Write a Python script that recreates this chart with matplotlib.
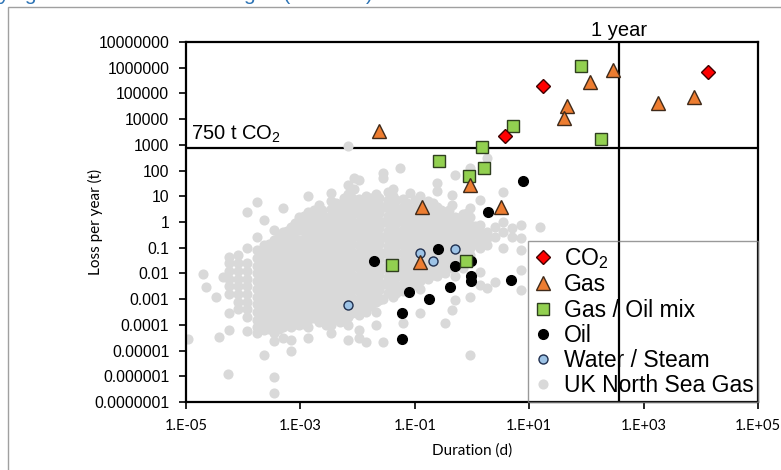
import numpy as np
import matplotlib.pyplot as plt
from matplotlib.patches import Rectangle

plt.rcParams['font.family'] = ['Liberation Sans', 'DejaVu Sans']
plt.rcParams['mathtext.default'] = 'regular'

# leak events: duration (d), loss per year (t)
co2_dur = [17.2, 3.8, 13500]
co2_loss = [187000, 2260, 680000]

gas_dur = [0.0237, 0.136, 0.91, 3.2, 0.121, 45, 41, 116, 295, 1800, 7600]
gas_loss = [3540, 3.7, 27, 4.0, 0.029, 33000, 11000, 268000, 785000, 42300, 72400]

mix_dur = [81, 5.3, 1.5, 178, 0.265, 1.62, 0.90, 0.0394, 0.777]
mix_loss = [1.12e6, 5540, 807, 1730, 240, 125, 59, 0.0216, 0.031]

oil_dur = [7.7, 1.93, 0.258, 0.0197, 0.505, 0.96, 0.96, 0.96, 4.9, 0.42, 0.080, 0.18, 0.0597, 0.0597]
oil_loss = [37.7, 2.5, 0.088, 0.0296, 0.0198, 0.0296, 0.0081, 0.0049, 0.0056, 0.0029,
            0.0019, 0.00098, 0.00029, 0.0000293]

water_dur = [0.123, 0.21, 0.505, 0.0069]
water_loss = [0.063, 0.031, 0.09, 0.00059]

# UK North Sea gas releases, read column by column (log10 duration -> log10 loss)
ns_log_dur = [-4.97, -4.70, -4.65, -4.48, -4.42, -4.35, -4.27, -4.25, -4.09, -3.94,
              -3.76, -3.64, -3.46, -3.30, -3.16, -3.02, -2.86, -2.68, -2.56, -2.46,
              -2.31, -2.16, -2.06, -1.98, -1.86, -1.68, -1.56, -1.38, -1.26, -1.20,
              -1.08, -0.91, -0.77, -0.61, -0.47, -0.35, -0.30, -0.16, -0.03, 0.14,
              0.26, 0.40, 0.54, 0.70, 0.86, 1.19,
              -3.55, -3.38, -3.23, -3.09, -2.94, -2.77, -2.62, -2.38, -2.23, -2.10,
              -1.92, -1.77, -1.62, -1.47, -1.32, -1.14, -1.00, -0.84, -0.69, -0.54,
              -0.40, -0.22, -0.09, 0.06]
ns_log_loss = [
    [-4.55], [-2.04], [-2.52], [-2.91], [-4.48], [-2.13], [-5.9],
    [-1.35, -1.59, -1.9, -2.2, -2.5, -2.8, -3.54, -4.2],
    [-1.3, -1.6, -1.9, -2.2, -2.5, -2.8, -3.1, -3.4],
    [0.37, -1.0, -1.6, -1.9, -2.2, -2.5, -2.8, -3.1, -3.4, -3.7, -4.23],
    [0.79, -0.6, -1.1, -1.4, -1.7, -2.0, -2.3, -2.6, -2.9, -3.2, -3.5, -3.8, -4.1, -4.31],
    [0.09, -0.9, -1.2, -1.5, -1.8, -2.1, -2.4, -2.7, -3.0, -3.3, -3.6, -3.9, -4.2, -5.17],
    [-0.3, -0.7, -1.0, -1.3, -1.6, -1.9, -2.2, -2.5, -2.8, -3.1, -3.4, -3.7, -4.0, -4.3,
     -4.62, -6.02, -6.64],
    [0.55, -0.4, -0.8, -1.1, -1.4, -1.7, -2.0, -2.3, -2.6, -2.9, -3.2, -3.5, -3.8, -4.1, -4.5],
    [-0.2, -0.5, -0.8, -1.1, -1.4, -1.7, -2.0, -2.3, -2.6, -2.9, -3.2, -3.5, -3.8, -4.1,
     -4.6, -5.0],
    [0.2, -0.3, -0.7, -1.0, -1.3, -1.6, -1.9, -2.2, -2.5, -2.8, -3.1, -3.4, -3.7, -4.0],
    [1.0, 0.4, 0.1, -0.2, -0.5, -0.8, -1.1, -1.4, -1.7, -2.0, -2.3, -2.6, -2.9, -3.2,
     -3.5, -3.8, -4.1, -4.5],
    [0.68, 0.3, 0.0, -0.3, -0.6, -0.9, -1.2, -1.5, -1.8, -2.1, -2.4, -2.7, -3.0, -3.3,
     -3.6, -3.9],
    [0.2, -0.1, -0.4, -0.7, -1.0, -1.3, -1.6, -1.9, -2.2, -2.5, -2.8, -3.1, -3.4, -3.7, -4.0],
    [1.14, 0.8, 0.5, 0.2, -0.1, -0.4, -0.7, -1.0, -1.3, -1.6, -1.9, -2.2, -2.5, -2.8,
     -3.1, -3.4, -3.7, -4.0, -4.3],
    [0.6, 0.3, 0.0, -0.3, -0.6, -0.9, -1.2, -1.5, -1.8, -2.1, -2.4, -2.7, -3.0, -3.3,
     -3.6, -3.9],
    [2.96, 1.45, 1.1, 0.8, 0.5, 0.2, -0.1, -0.4, -0.7, -1.0, -1.3, -1.6, -1.9, -2.2,
     -2.5, -2.8, -3.1, -3.4, -3.7, -4.0, -4.58],
    [1.72, 1.3, 0.35, -0.55, -1.45, -2.35, -3.25],
    [1.64, 0.9, 0.6, 0.3, 0.0, -0.3, -0.6, -0.9, -1.2, -1.5, -1.8, -2.1, -2.4, -2.7,
     -3.0, -3.3, -3.6, -4.19, -4.5],
    [1.0, 0.7, 0.4, 0.1, -0.2, -0.5, -0.8, -1.1, -1.4, -1.7, -2.0, -2.3, -2.6, -2.9,
     -3.2, -3.5, -4.66],
    [1.1, 0.8, 0.5, 0.2, -0.1, -0.4, -0.7, -1.0, -1.3, -1.6, -1.9, -2.2, -2.5, -2.8,
     -3.1, -3.5, -4.0],
    [1.92, 1.72, 0.6, 0.0, -0.6, -1.2, -1.8, -2.4, -3.0, -4.66],
    [1.3, 1.0, 0.7, 0.4, 0.1, -0.2, -0.5, -0.8, -1.1, -1.4, -1.7, -2.0, -2.3, -2.6, -2.9],
    [2.11],
    [0.9, 0.6, 0.3, 0.0, -0.3, -0.6, -0.9, -1.2, -1.5, -1.8, -2.1, -2.4, -2.7, -3.93],
    [1.14, 0.5, 0.2, -0.1, -0.4, -0.7, -1.0, -1.3, -1.6, -1.9, -2.2, -2.5],
    [1.0, 0.7, 0.4, 0.1, -0.2, -0.5, -0.8, -1.1, -1.4, -1.7, -2.0, -2.3, -2.6, -3.54],
    [0.8, 0.5, 0.2, -0.1, -0.4, -0.7, -1.0, -1.3, -1.6, -1.9, -2.2],
    [1.51, 1.19, 0.6, 0.3, 0.0, -0.3, -0.6, -0.9, -1.2, -1.5, -1.8, -2.1],
    [0.4, 0.1, -0.2, -0.5, -0.8, -1.1, -1.4, -1.7, -2.0, -3.93],
    [1.06, 0.67, -0.3, -0.6, -0.9, -1.2, -1.5, -1.8, -3.41],
    [1.84, 0.2, -0.1, -0.4, -1.0, -1.4, -2.1, -3.03],
    [0.3, 0.0, -0.3, -0.6, -0.9, -1.2, -1.5, -1.8],
    [2.11, 0.55, 0.2, -0.1, -0.4, -0.7, -1.0, -1.3, -2.91, -5.17],
    [0.86, -0.11, -0.4, -0.7, -1.0, -1.93, -2.45],
    [2.49, -0.37, -0.63, -0.9, -2.57],
    [-0.2, -0.6, -2.33],
    [1.18, 0.0, -0.4, -1.0],
    [-0.23, -0.57],
    [-0.11, -0.61, -1.1, -1.86, -2.64],
    [-0.19],
    # in-between readings of the dense core
    [-0.85, -1.15, -1.45, -1.75, -2.05, -2.35, -2.65, -2.95, -3.25, -3.55, -3.85, -4.15],
    [-0.55, -0.85, -1.15, -1.45, -1.75, -2.05, -2.35, -2.65, -2.95, -3.25, -3.55, -3.85,
     -4.15],
    [-0.35, -0.65, -0.95, -1.25, -1.55, -1.85, -2.15, -2.45, -2.75, -3.05, -3.35, -3.65,
     -3.95],
    [-0.05, -0.35, -0.65, -0.95, -1.25, -1.55, -1.85, -2.15, -2.45, -2.75, -3.05, -3.35,
     -3.65, -3.95],
    [0.25, -0.05, -0.35, -0.65, -0.95, -1.25, -1.55, -1.85, -2.15, -2.45, -2.75, -3.05,
     -3.35, -3.65, -3.95],
    [0.45, 0.15, -0.15, -0.45, -0.75, -1.05, -1.35, -1.65, -1.95, -2.25, -2.55, -2.85,
     -3.15, -3.45, -3.75],
    [0.45, 0.15, -0.15, -0.45, -0.75, -1.05, -1.35, -1.65, -1.95, -2.25, -2.55, -2.85,
     -3.15, -3.45, -3.75],
    [0.75, 0.45, 0.15, -0.15, -0.45, -0.75, -1.05, -1.35, -1.65, -1.95, -2.25, -2.55,
     -2.85, -3.15, -3.45, -3.75],
    [0.95, 0.65, 0.35, 0.05, -0.25, -0.55, -0.85, -1.15, -1.45, -1.75, -2.05, -2.35,
     -2.65, -2.95, -3.25, -3.55, -3.85],
    [0.95, 0.65, 0.05, -0.25, -0.85, -1.15, -1.75, -2.05, -2.65, -2.95, -3.55],
    [0.75, 0.45, 0.15, -0.15, -0.45, -0.75, -1.05, -1.35, -1.65, -1.95, -2.25, -2.55,
     -2.85, -3.35],
    [0.95, 0.65, 0.35, 0.05, -0.25, -0.55, -0.85, -1.15, -1.45, -1.75, -2.05, -2.35,
     -2.65, -2.95, -3.25],
    [0.95, 0.65, 0.35, 0.05, -0.25, -0.55, -0.85, -1.15, -1.45, -1.75, -2.05, -2.35,
     -2.65, -3.05],
    [1.15, 0.85, 0.55, 0.25, -0.05, -0.35, -0.65, -0.95, -1.25, -1.55, -1.85, -2.15,
     -2.45, -2.75],
    [0.85, 0.55, 0.25, -0.05, -0.35, -0.65, -0.95, -1.25, -1.55, -1.85, -2.15, -2.45,
     -2.75],
    [0.75, 0.45, 0.15, -0.15, -0.45, -0.75, -1.05, -1.35, -1.65, -1.95, -2.25, -2.45],
    [0.85, 0.55, 0.25, -0.05, -0.35, -0.65, -0.95, -1.25, -1.55, -1.85, -2.15, -2.45],
    [0.65, 0.35, 0.05, -0.25, -0.55, -0.85, -1.15, -1.45, -1.75, -2.15],
    [0.75, 0.45, 0.15, -0.15, -0.45, -0.75, -1.05, -1.35, -1.65, -2.05],
    [0.45, 0.15, -0.15, -0.45, -0.75, -1.05, -1.35, -1.65, -1.95],
    [0.45, 0.15, -0.15, -0.45, -0.75, -1.05, -1.35, -1.65],
    [0.15, -0.15, -0.45, -0.75, -1.05, -1.35],
    [0.35, 0.05, -0.25, -0.55, -0.85, -1.25],
    [-0.15, -0.45, -0.85],
]

year_days = 365
co2_limit = 750

xticks = [1e-5, 1e-3, 1e-1, 1e1, 1e3, 1e5]
xticklabels = ['1.E-05', '1.E-03', '1.E-01', '1.E+01', '1.E+03', '1.E+05']
yticks = [10.0 ** k for k in range(-7, 8)]
yticklabels = ['0.0000001', '0.000001', '0.00001', '0.0001', '0.001', '0.01', '0.1',
               '1', '10', '100', '1000', '10000', '100000', '1000000', '10000000']

ns_x, ns_y = [], []
for d, col in zip(ns_log_dur, ns_log_loss):
    for l in col:
        ns_x.append(10.0 ** d)
        ns_y.append(10.0 ** l)

fig = plt.figure(figsize=(7.81, 4.70), dpi=100)
ax = fig.add_axes([186 / 781, 1 - 402 / 470, 572 / 781, 360 / 470])
ax.set_xscale('log')
ax.set_yscale('log')

ax.axhline(co2_limit, color='black', lw=1.6, zorder=1)
ax.axvline(year_days, color='black', lw=1.6, zorder=1)

h_ns, = ax.plot(ns_x, ns_y, ls='none', marker='o', ms=7.3, mfc='#d9d9d9', mec='none', zorder=2)
h_water, = ax.plot(water_dur, water_loss, ls='none', marker='o', ms=6.5, mfc='#9dc3e6',
                   mec='#1f2f4f', mew=1.0, zorder=3)
h_oil, = ax.plot(oil_dur, oil_loss, ls='none', marker='o', ms=7, mfc='black', mec='black', zorder=3)
h_mix, = ax.plot(mix_dur, mix_loss, ls='none', marker='s', ms=9, mfc='#92d050',
                 mec='#2f3f1f', mew=1.0, zorder=4)
h_gas, = ax.plot(gas_dur, gas_loss, ls='none', marker='^', ms=10, mfc='#ed7d31',
                 mec='#3f2a1a', mew=1.0, zorder=4)
h_co2, = ax.plot(co2_dur, co2_loss, ls='none', marker='D', ms=7.5, mfc='#ff0000',
                 mec='#3f0000', mew=1.0, zorder=5)

ax.set_xlim(1e-5, 1e5)
ax.set_ylim(1e-7, 1e7)
ax.set_xticks(xticks)
ax.set_xticklabels(xticklabels, family=['Lato', 'DejaVu Sans'], fontsize=10.5)
ax.set_yticks(yticks)
ax.set_yticklabels(yticklabels, fontsize=11.3)
ax.minorticks_off()
ax.tick_params(direction='out', length=5, width=1.2, pad=7, color='black')
for s in ax.spines.values():
    s.set_linewidth(1.6)
    s.set_color('black')

ax.set_xlabel('Duration (d)', family=['Lato', 'DejaVu Sans'], fontsize=11, labelpad=8)
ax.set_ylabel('Loss per year (t)', family=['Lato', 'DejaVu Sans'], fontsize=11)
ax.yaxis.set_label_coords((103 - 186) / 572, 0.5)

ax.text(1.2e-5, 1000, '750 t CO$_2$', fontsize=14.5, va='bottom', ha='left')
ax.text(year_days, 1.25e7, '1 year', fontsize=14.5, va='bottom', ha='center')

leg = ax.legend([h_co2, h_gas, h_mix, h_oil, h_water, h_ns],
                ['CO$_2$', 'Gas', 'Gas / Oil mix', 'Oil', 'Water / Steam', 'UK North Sea Gas'],
                loc='lower right', borderaxespad=0, fontsize=16.5, fancybox=False,
                edgecolor='#808080', handlelength=0.9, handletextpad=0.45,
                labelspacing=0.1, borderpad=0.2)
leg.get_frame().set_facecolor('none')
leg.get_frame().set_linewidth(1.0)

# page frame and the clipped caption line above it
fig.patches.append(Rectangle((8 / 781, -0.1), 1.2, 1.1 - 7.5 / 470, transform=fig.transFigure,
                             fill=False, edgecolor='#a0a0a0', lw=1.0))
fig.text(-0.002, 1.0, 'ying', color='#2e74b5', fontsize=15, va='baseline', ha='left')
fig.text(244 / 781, 1.0, 'gas (UK data)', color='#2e74b5', fontsize=15, va='baseline', ha='left')

fig.savefig('out.png', dpi=100)
